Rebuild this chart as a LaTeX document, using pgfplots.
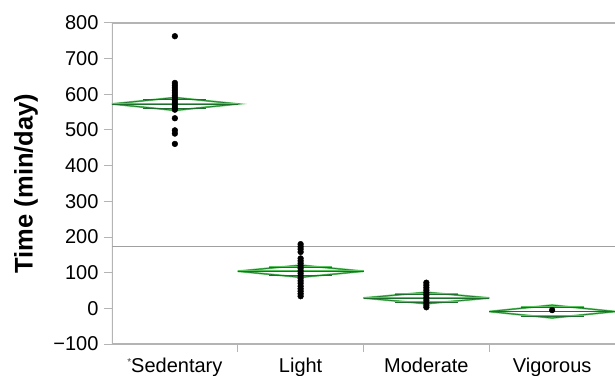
\documentclass[border=0pt]{standalone}
\usepackage{fontspec}
\setmainfont{Liberation Sans}
\usepackage{pgfplots}
\pgfplotsset{compat=1.18}
\definecolor{axgray}{RGB}{180,180,180}
\definecolor{mgray}{RGB}{160,160,160}
\definecolor{dgreen}{RGB}{30,110,45}
\definecolor{lgreen}{RGB}{90,195,95}
\pgfplotsset{
  diam/.style={draw=dgreen, line width=0.6bp, preaction={draw=lgreen, line width=1.9bp}},
  diamthin/.style={draw=dgreen, line width=0.5bp, preaction={draw=lgreen, line width=1.5bp}},
}
\begin{document}
\begin{tikzpicture}
\begin{axis}[
  at={(0,0)}, anchor=south west,
  scale only axis, width=503bp, height=321bp,
  xmin=-0.5, xmax=3.5, ymin=-100, ymax=800,
  axis line style={draw=none},
  ytick={-100,0,100,200,300,400,500,600,700,800},
  yticklabels={−100,0,100,200,300,400,500,600,700,800},
  xtick={0,1,2,3},
  xticklabels={{\raisebox{0.35em}{\color{darkgray}\fontsize{10bp}{10bp}\selectfont*}Sedentary},Light,Moderate,Vigorous},
  minor xtick={0.5,1.5,2.5},
  xtick pos=bottom, ytick pos=left,
  major x tick style={draw=none},
  minor x tick style={draw=axgray, line width=1bp},
  ytick style={draw=axgray, line width=1bp},
  tick align=outside,
  major tick length=8bp,
  minor tick length=8bp,
  tick label style={font=\fontsize{20bp}{24bp}\selectfont},
  yticklabel style={anchor=east, xshift=-2bp},
  xticklabel style={anchor=base, yshift=-20bp},
  ylabel={Time (min/day)},
  ylabel style={font=\fontsize{25.5bp}{30bp}\selectfont\bfseries, at={(axis description cs:-0.171,0.5)}, anchor=center},
]
% axis frame (left, top, bottom)
\draw[axgray, line width=1.3bp] (rel axis cs:1.02,1) -- (rel axis cs:0,1) -- (rel axis cs:0,0) -- (rel axis cs:1.02,0);
% grand mean
\addplot[mgray, line width=1.5bp] coordinates {(-0.5,173) (3.5,173)};
% means diamonds
\addplot[diam] coordinates {(-0.5,573) (0,591) (0.5,573) (0,555) (-0.5,573)};
\addplot[diam] coordinates {(-0.5,573) (0.5,573)};
\addplot[diamthin] coordinates {(-0.25,586) (0.25,586)};
\addplot[diamthin] coordinates {(-0.25,560) (0.25,560)};
\addplot[diam] coordinates {(0.5,104) (1,121) (1.5,104) (1,87) (0.5,104)};
\addplot[diam] coordinates {(0.5,104) (1.5,104)};
\addplot[diamthin] coordinates {(0.75,116) (1.25,116)};
\addplot[diamthin] coordinates {(0.75,92) (1.25,92)};
\addplot[diam] coordinates {(1.5,29) (2,45) (2.5,29) (2,13) (1.5,29)};
\addplot[diam] coordinates {(1.5,29) (2.5,29)};
\addplot[diamthin] coordinates {(1.75,40) (2.25,40)};
\addplot[diamthin] coordinates {(1.75,18) (2.25,18)};
\addplot[diam] coordinates {(2.5,-9) (3,9) (3.5,-9) (3,-27) (2.5,-9)};
\addplot[diam] coordinates {(2.5,-9) (3.5,-9)};
\addplot[diamthin] coordinates {(2.75,4) (3.25,4)};
\addplot[diamthin] coordinates {(2.75,-22) (3.25,-22)};
% data points
\addplot[only marks, mark=*, mark size=2.9bp, black] coordinates {
(0,763) (0,632) (0,625) (0,618) (0,611) (0,604) (0,597) (0,590) (0,583) (0,576) (0,569) (0,562) (0,557)
(0,533) (0,499) (0,490) (0,461)
};
\addplot[only marks, mark=*, mark size=2.9bp, black] coordinates {
(1,180) (1,173) (1,166) (1,158) (1,140) (1,133) (1,126) (1,119) (1,112) (1,105) (1,98) (1,91) (1,84) (1,77) (1,70) (1,62) (1,55) (1,48) (1,41) (1,34)
};
\addplot[only marks, mark=*, mark size=2.9bp, black] coordinates {
(2,72) (2,65) (2,58) (2,51) (2,44) (2,37) (2,30) (2,23) (2,16) (2,9) (2,3)
};
\addplot[only marks, mark=*, mark size=2.9bp, black] coordinates {(3,-5)};
\end{axis}
\pgfresetboundingbox
\useasboundingbox (-112bp,-32bp) rectangle (503bp,344bp);
\end{tikzpicture}
\end{document}
